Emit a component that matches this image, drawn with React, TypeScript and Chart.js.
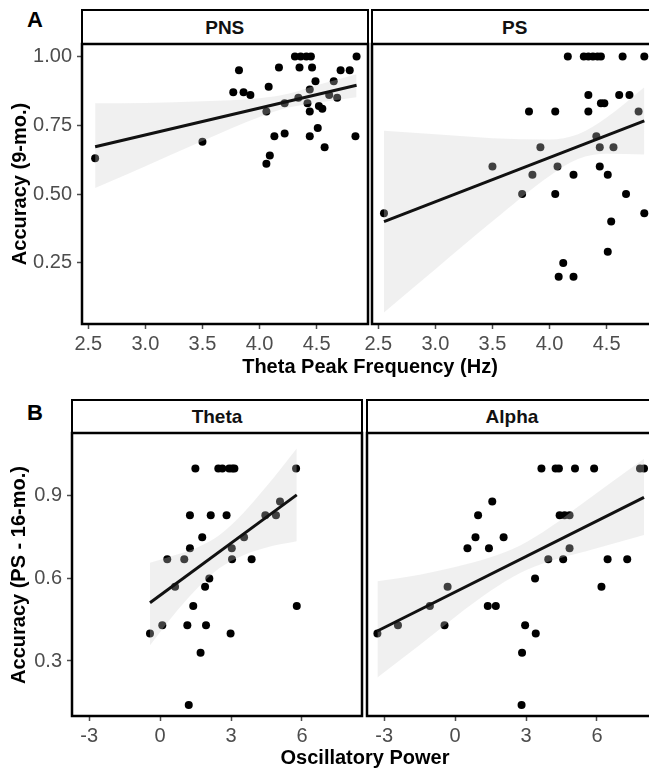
import React, { useEffect, useRef } from 'react';
import { Chart, registerables } from 'chart.js';

Chart.register(...registerables);

const FONT = "'Liberation Sans', Arial, Helvetica, sans-serif";

// ---------- Panel A : Theta peak frequency vs accuracy (9-mo.) ----------
const pnsFreq = [2.56, 3.50, 3.77, 3.82, 3.86, 3.92, 4.06, 4.06, 4.09, 4.08, 4.13, 4.17, 4.22, 4.22, 4.31, 4.36, 4.41, 4.45, 4.35, 4.34, 4.42, 4.44, 4.46, 4.49, 4.44, 4.44, 4.51, 4.52, 4.55, 4.57, 4.61, 4.65, 4.68, 4.71, 4.79, 4.84, 4.85];
const pnsAcc = [0.63, 0.69, 0.87, 0.95, 0.87, 0.86, 0.80, 0.61, 0.64, 0.89, 0.71, 0.96, 0.83, 0.72, 1.00, 1.00, 1.00, 1.00, 0.96, 0.85, 0.83, 0.88, 0.96, 0.91, 0.80, 0.71, 0.74, 0.82, 0.81, 0.67, 0.86, 0.91, 0.85, 0.95, 0.95, 0.71, 1.00];
const pnsFitX = [2.56, 4.85];
const pnsFitY = [0.672, 0.895];
const pnsBandX = [2.56, 3.0, 3.5, 4.0, 4.25, 4.5, 4.85];
const pnsBandHi = [0.830, 0.831, 0.837, 0.848, 0.864, 0.895, 0.935];
const pnsBandLo = [0.522, 0.601, 0.693, 0.780, 0.814, 0.832, 0.852];

const psFreq = [2.55, 3.50, 3.76, 3.82, 3.85, 3.92, 4.05, 4.05, 4.07, 4.08, 4.12, 4.16, 4.21, 4.21, 4.30, 4.34, 4.38, 4.42, 4.45, 4.34, 4.34, 4.41, 4.44, 4.44, 4.45, 4.48, 4.51, 4.51, 4.54, 4.56, 4.61, 4.64, 4.67, 4.70, 4.78, 4.83, 4.83];
const psAcc = [0.43, 0.60, 0.50, 0.80, 0.57, 0.67, 0.80, 0.50, 0.60, 0.20, 0.25, 1.00, 0.57, 0.20, 1.00, 1.00, 1.00, 1.00, 1.00, 0.86, 0.80, 0.71, 0.67, 0.60, 0.83, 0.83, 0.57, 0.29, 0.40, 0.67, 0.86, 1.00, 0.50, 0.86, 0.80, 0.43, 1.00];
const psFitX = [2.55, 4.83];
const psFitY = [0.400, 0.766];
const psBandX = [2.55, 3.0, 3.5, 4.0, 4.25, 4.5, 4.83];
const psBandHi = [0.730, 0.717, 0.703, 0.698, 0.717, 0.778, 0.888];
const psBandLo = [0.070, 0.227, 0.401, 0.566, 0.627, 0.646, 0.644];

const freqTicks = [2.5, 3.0, 3.5, 4.0, 4.5];
const acc9Ticks = [0.25, 0.5, 0.75, 1.0];

// ---------- Panel B : Oscillatory power vs accuracy (PS - 16-mo.) ----------
const thetaPower = [-0.43, 0.09, 0.30, 0.63, 1.02, 1.15, 1.21, 1.26, 1.26, 1.40, 1.49, 1.71, 1.78, 1.90, 1.94, 2.08, 2.14, 2.46, 2.63, 2.81, 2.92, 3.05, 3.14, 2.98, 3.03, 3.04, 3.55, 3.87, 4.45, 4.90, 5.07, 5.75, 5.78];
const thetaAcc = [0.40, 0.43, 0.67, 0.57, 0.67, 0.43, 0.14, 0.71, 0.83, 0.50, 1.00, 0.33, 0.75, 0.57, 0.43, 0.60, 0.83, 1.00, 1.00, 0.83, 1.00, 1.00, 1.00, 0.40, 0.71, 0.67, 0.75, 0.67, 0.83, 0.83, 0.88, 1.00, 0.50];
const thetaFitX = [-0.43, 5.78];
const thetaFitY = [0.512, 0.904];
const thetaBandX = [-0.43, 0.5, 1.5, 2.5, 3.5, 4.5, 5.78];
const thetaBandHi = [0.657, 0.682, 0.710, 0.757, 0.836, 0.935, 1.073];
const thetaBandLo = [0.357, 0.460, 0.558, 0.637, 0.684, 0.713, 0.735];

const alphaPower = [-3.29, -2.42, -1.07, -0.45, -0.32, 0.52, 0.86, 0.97, 1.38, 1.43, 1.57, 1.72, 2.05, 2.83, 2.81, 2.96, 3.38, 3.41, 3.65, 3.94, 4.25, 4.39, 4.42, 4.57, 4.63, 4.84, 4.84, 5.07, 5.88, 6.19, 6.45, 7.28, 7.82, 7.99];
const alphaAcc = [0.40, 0.43, 0.50, 0.43, 0.57, 0.71, 0.75, 0.83, 0.50, 0.71, 0.88, 0.50, 0.75, 0.33, 0.14, 0.43, 0.60, 0.40, 1.00, 0.67, 1.00, 1.00, 0.83, 0.67, 0.83, 0.83, 0.71, 1.00, 1.00, 0.57, 0.67, 0.67, 1.00, 1.00];
const alphaFitX = [-3.29, 7.99];
const alphaFitY = [0.409, 0.895];
const alphaBandX = [-3.29, -1.5, 0, 1.5, 2.75, 4.0, 5.5, 7.99];
const alphaBandHi = [0.590, 0.614, 0.642, 0.677, 0.720, 0.785, 0.880, 1.035];
const alphaBandLo = [0.240, 0.358, 0.460, 0.555, 0.620, 0.663, 0.698, 0.758];

const powerTicks = [-3, 0, 3, 6];
const acc16Ticks = [0.3, 0.6, 0.9];

// ---------- layout ----------
const X_AXIS_H = 42;

type Area = { l: number; t: number; r: number; b: number };
type PanelSpec = {
  area: Area;
  showY: boolean;
  xMin: number; xMax: number; xTicks: number[]; xFmt: (v: number) => string;
  yMin: number; yMax: number; yTicks: number[]; yFmt: (v: number) => string;
  px: number[]; py: number[];
  fitX: number[]; fitY: number[];
  bandX: number[]; bandHi: number[]; bandLo: number[];
};

const fmt1 = (v: number) => v.toFixed(1);
const fmt2 = (v: number) => v.toFixed(2);
const fmt0 = (v: number) => String(Math.round(v));

const A_TOP = 44, A_BOT = 324, B_TOP = 433, B_BOT = 716;

const panels: PanelSpec[] = [
  { area: { l: 82, t: A_TOP, r: 367.5, b: A_BOT }, showY: true,
    xMin: 2.445, xMax: 4.95, xTicks: freqTicks, xFmt: fmt1,
    yMin: 0.028, yMax: 1.045, yTicks: acc9Ticks, yFmt: fmt2,
    px: pnsFreq, py: pnsAcc, fitX: pnsFitX, fitY: pnsFitY,
    bandX: pnsBandX, bandHi: pnsBandHi, bandLo: pnsBandLo },
  { area: { l: 372, t: A_TOP, r: 657.5, b: A_BOT }, showY: false,
    xMin: 2.445, xMax: 4.95, xTicks: freqTicks, xFmt: fmt1,
    yMin: 0.028, yMax: 1.045, yTicks: acc9Ticks, yFmt: fmt2,
    px: psFreq, py: psAcc, fitX: psFitX, fitY: psFitY,
    bandX: psBandX, bandHi: psBandHi, bandLo: psBandLo },
  { area: { l: 72, t: B_TOP, r: 362, b: B_BOT }, showY: true,
    xMin: -3.73, xMax: 8.54, xTicks: powerTicks, xFmt: fmt0,
    yMin: 0.1, yMax: 1.129, yTicks: acc16Ticks, yFmt: fmt1,
    px: thetaPower, py: thetaAcc, fitX: thetaFitX, fitY: thetaFitY,
    bandX: thetaBandX, bandHi: thetaBandHi, bandLo: thetaBandLo },
  { area: { l: 367, t: B_TOP, r: 657, b: B_BOT }, showY: false,
    xMin: -3.73, xMax: 8.54, xTicks: powerTicks, xFmt: fmt0,
    yMin: 0.1, yMax: 1.129, yTicks: acc16Ticks, yFmt: fmt1,
    px: alphaPower, py: alphaAcc, fitX: alphaFitX, fitY: alphaFitY,
    bandX: alphaBandX, bandHi: alphaBandHi, bandLo: alphaBandLo },
];

const boxPlugin = {
  id: 'panelBox',
  afterDraw(chart: any) {
    const { ctx, chartArea: a } = chart;
    ctx.save();
    ctx.strokeStyle = '#000';
    ctx.lineWidth = 2.5;
    ctx.strokeRect(a.left, a.top, a.right - a.left, a.bottom - a.top);
    ctx.restore();
  },
};

const zip = (xs: number[], ys: number[]) => xs.map((x, i) => ({ x, y: ys[i] }));

function Panel({ spec }: { spec: PanelSpec }) {
  const ref = useRef<HTMLCanvasElement>(null);
  const left = spec.showY ? 0 : spec.area.l - 24;
  const top = spec.area.t - 4;
  const width = Math.round(spec.area.r + 4 - left);
  const height = Math.round(spec.area.b + X_AXIS_H - top);
  const yW = spec.area.l - left;

  useEffect(() => {
    if (!ref.current) return;
    const tickFont = { family: FONT, size: 20 };
    const chart = new Chart(ref.current, {
      type: 'line',
      data: {
        datasets: [
          { label: 'fit', data: zip(spec.fitX, spec.fitY), borderColor: '#111', borderWidth: 3,
            pointRadius: 0, fill: false, order: 0 } as any,
          { label: 'band-hi', data: zip(spec.bandX, spec.bandHi), borderColor: 'rgba(0,0,0,0)',
            borderWidth: 1, pointRadius: 0, fill: '+1', backgroundColor: 'rgba(206,206,206,0.31)',
            cubicInterpolationMode: 'monotone', order: 1 } as any,
          { label: 'band-lo', data: zip(spec.bandX, spec.bandLo), borderColor: 'rgba(0,0,0,0)',
            borderWidth: 1, pointRadius: 0, fill: false, cubicInterpolationMode: 'monotone', order: 2 } as any,
          { label: 'points', data: zip(spec.px, spec.py), showLine: false, pointRadius: 4,
            pointBackgroundColor: '#000', pointBorderColor: 'rgba(0,0,0,0)', pointBorderWidth: 0,
            order: 3 } as any,
        ],
      },
      options: {
        animation: false,
        responsive: false,
        events: [],
        layout: { padding: { left: 0, top: 4, right: 4, bottom: 0 } },
        plugins: { legend: { display: false }, tooltip: { enabled: false } },
        scales: {
          x: {
            type: 'linear', min: spec.xMin, max: spec.xMax,
            afterBuildTicks: (s: any) => { s.ticks = spec.xTicks.map((v) => ({ value: v })); },
            afterFit: (s: any) => { s.height = X_AXIS_H; s.paddingLeft = 0; s.paddingRight = 0; },
            ticks: { callback: (v: any) => spec.xFmt(Number(v)), font: tickFont, color: '#4d4d4d',
              padding: 3, maxRotation: 0, minRotation: 0, autoSkip: false },
            grid: { drawOnChartArea: false, drawTicks: true, tickLength: 5, tickWidth: 1.5, tickColor: '#4d4d4d' },
            border: { display: false },
          },
          y: {
            type: 'linear', display: true, min: spec.yMin, max: spec.yMax,
            afterBuildTicks: (s: any) => { s.ticks = spec.yTicks.map((v) => ({ value: v })); },
            afterFit: (s: any) => { s.width = yW; s.paddingTop = 0; s.paddingBottom = 0; },
            ticks: { display: spec.showY, callback: (v: any) => spec.yFmt(Number(v)), font: tickFont,
              color: '#4d4d4d', padding: 5, autoSkip: false },
            grid: { drawOnChartArea: false, drawTicks: spec.showY, tickLength: 5, tickWidth: 1.5,
              tickColor: spec.showY ? '#4d4d4d' : 'rgba(0,0,0,0)' },
            border: { display: false },
          },
        },
      } as any,
      plugins: [boxPlugin],
    });
    return () => chart.destroy();
  }, []);

  return (
    <canvas ref={ref} width={width} height={height}
      style={{ position: 'absolute', left, top, width, height }} />
  );
}

function Strip({ l, r, t, b, text }: { l: number; r: number; t: number; b: number; text: string }) {
  return (
    <div style={{
      position: 'absolute', left: l - 1.25, top: t, width: r - l + 2.5, height: b - t + 1,
      border: '2px solid #000', boxSizing: 'border-box', display: 'flex', alignItems: 'center',
      justifyContent: 'center', fontWeight: 'bold', fontSize: 19, color: '#111', lineHeight: 1,
    }}>{text}</div>
  );
}

function Label({ x, y, text, size, rotate, color }: { x: number; y: number; text: string; size: number; rotate?: boolean; color?: string }) {
  return (
    <div style={{
      position: 'absolute', left: x, top: y, whiteSpace: 'nowrap', fontWeight: 'bold',
      fontSize: size, lineHeight: 1, color: color || '#000',
      transform: `translate(-50%, -50%)${rotate ? ' rotate(-90deg)' : ''}`,
    }}>{text}</div>
  );
}

export default function App() {
  return (
    <div style={{ position: 'absolute', left: 0, top: 0, width: 649, height: 768, overflow: 'hidden',
      background: '#fff', fontFamily: FONT }}>
      <Strip l={82} r={367.5} t={9} b={A_TOP} text="PNS" />
      <Strip l={372} r={657.5} t={9} b={A_TOP} text="PS" />
      <Strip l={72} r={362} t={399} b={B_TOP} text="Theta" />
      <Strip l={367} r={657} t={399} b={B_TOP} text="Alpha" />
      {panels.map((p, i) => <Panel key={i} spec={p} />)}
      <Label x={35} y={20} text="A" size={22} />
      <Label x={35} y={413} text="B" size={22} />
      <Label x={19} y={184} text="Accuracy (9-mo.)" size={20} rotate />
      <Label x={18} y={575} text="Accuracy (PS - 16-mo.)" size={20} rotate />
      <Label x={370} y={366} text="Theta Peak Frequency (Hz)" size={20} />
      <Label x={365} y={757} text="Oscillatory Power" size={20} />
    </div>
  );
}
